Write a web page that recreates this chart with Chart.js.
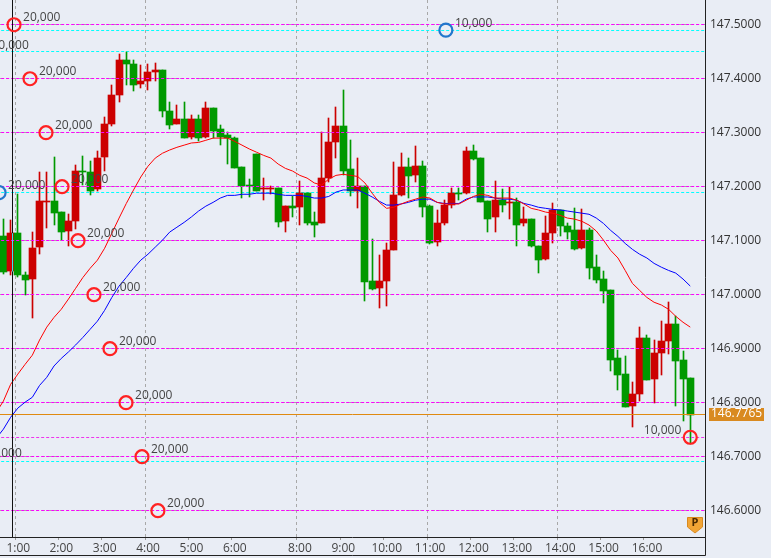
<!DOCTYPE html>
<html>
<head>
<meta charset="utf-8">
<style>
  html, body { margin: 0; padding: 0; background: #e9edf5; overflow: hidden; }
  canvas { display: block; }
</style>
<script src="https://cdn.jsdelivr.net/npm/chart.js@4/dist/chart.umd.min.js"></script>
</head>
<body>
<canvas id="myChart" width="771" height="558"></canvas>
<script>
var opens = [
  147.108,147.043,147.114,147.037,147.029,147.088,147.171,147.173,147.153,147.118,
  147.137,147.230,147.228,147.195,147.255,147.317,147.369,147.434,147.428,147.390,
  147.395,147.412,147.417,147.341,147.317,147.325,147.293,147.325,147.293,147.345,
  147.306,147.295,147.291,147.236,147.203,147.260,147.195,147.196,147.197,147.136,
  147.164,147.162,147.188,147.134,147.132,147.216,147.282,147.312,147.232,147.193,
  147.201,147.025,147.012,147.025,147.082,147.184,147.236,147.221,147.238,147.164,
  147.097,147.132,147.166,147.188,147.188,147.267,147.253,147.173,147.143,147.175,
  147.170,147.171,147.132,147.140,147.091,147.066,147.115,147.156,147.128,147.119,
  147.086,147.119,147.051,147.030,147.008,146.882,146.853,146.793,146.817,146.919,
  146.843,146.892,146.914,146.945,146.879,146.845
];
var highs = [
  147.141,147.139,147.187,147.042,147.117,147.227,147.227,147.255,147.153,147.150,
  147.241,147.256,147.248,147.267,147.330,147.388,147.446,147.449,147.434,147.425,
  147.428,147.430,147.417,147.356,147.351,147.356,147.332,147.332,147.356,147.345,
  147.314,147.301,147.293,147.236,147.214,147.260,147.216,147.201,147.197,147.164,
  147.182,147.210,147.188,147.153,147.302,147.327,147.347,147.380,147.286,147.253,
  147.201,147.103,147.073,147.095,147.245,147.262,147.254,147.275,147.247,147.167,
  147.156,147.175,147.197,147.197,147.273,147.277,147.253,147.173,147.210,147.195,
  147.199,147.180,147.162,147.141,147.091,147.145,147.169,147.156,147.132,147.160,
  147.158,147.123,147.073,147.043,147.008,146.897,146.886,146.838,146.940,146.925,
  146.917,146.951,146.986,146.960,146.895,146.845
];
var lows = [
  147.039,147.036,147.033,146.999,146.957,147.076,147.124,147.129,147.101,147.090,
  147.121,147.203,147.184,147.193,147.230,147.312,147.357,147.388,147.378,147.382,
  147.380,147.395,147.330,147.306,147.317,147.291,147.288,147.284,147.291,147.291,
  147.278,147.243,147.234,147.179,147.181,147.193,147.175,147.187,147.125,147.116,
  147.143,147.130,147.129,147.106,147.132,147.208,147.253,147.221,147.182,147.160,
  146.988,147.008,146.975,146.980,147.082,147.182,147.180,147.208,147.143,147.093,
  147.090,147.130,147.160,147.175,147.186,147.249,147.171,147.117,147.117,147.153,
  147.141,147.091,147.128,147.088,147.041,147.064,147.095,147.108,147.104,147.082,
  147.084,147.030,147.021,146.984,146.858,146.823,146.792,146.755,146.804,146.842,
  146.799,146.851,146.890,146.793,146.766,146.724
];
var closes = [
  147.042,147.114,147.036,147.027,147.087,147.173,147.173,147.151,147.116,147.136,
  147.230,147.227,147.193,147.254,147.317,147.369,147.434,147.427,147.388,147.395,
  147.412,147.417,147.340,147.315,147.325,147.291,147.325,147.291,147.345,147.304,
  147.293,147.290,147.234,147.201,147.201,147.193,147.196,147.198,147.134,147.164,
  147.160,147.188,147.132,147.130,147.216,147.282,147.312,147.230,147.193,147.201,
  147.023,147.010,147.025,147.082,147.184,147.236,147.219,147.238,147.162,147.095,
  147.132,147.167,147.188,147.186,147.267,147.251,147.171,147.141,147.175,147.167,
  147.172,147.130,147.140,147.090,147.064,147.115,147.156,147.127,147.117,147.084,
  147.119,147.049,147.028,147.006,146.880,146.851,146.792,146.817,146.919,146.842,
  146.892,146.914,146.945,146.877,146.843,146.7765
];
// both averages start one bar before the first visible candle
var maRed = [
  146.782,146.803,146.834,146.853,146.871,146.888,146.916,146.940,146.958,146.973,146.992,
  147.012,147.032,147.049,147.064,147.086,147.114,147.142,147.169,147.194,147.218,
  147.238,147.253,147.262,147.268,147.273,147.277,147.281,147.282,147.286,147.290,
  147.290,147.290,147.284,147.277,147.270,147.264,147.258,147.253,147.242,147.234,
  147.229,147.221,147.216,147.207,147.203,147.214,147.221,147.223,147.221,147.219,
  147.207,147.188,147.171,147.160,147.162,147.168,147.173,147.177,147.181,147.179,
  147.171,147.168,147.168,147.168,147.175,147.182,147.186,147.184,147.179,147.179,
  147.179,147.175,147.168,147.160,147.157,147.153,147.151,147.147,147.142,147.140,
  147.136,147.129,147.118,147.101,147.082,147.068,147.045,147.021,147.008,146.995,
  146.986,146.981,146.973,146.960,146.949,146.940
];
var maBlue = [
  146.734,146.751,146.773,146.790,146.801,146.810,146.832,146.847,146.868,146.882,146.894,
  146.907,146.921,146.936,146.951,146.971,146.995,147.016,147.032,147.049,147.064,
  147.075,147.088,147.101,147.116,147.125,147.134,147.144,147.155,147.164,147.171,
  147.179,147.184,147.184,147.186,147.186,147.188,147.188,147.188,147.186,147.184,
  147.184,147.184,147.182,147.179,147.179,147.182,147.190,147.194,147.194,147.194,
  147.188,147.181,147.173,147.166,147.166,147.168,147.171,147.175,147.177,147.177,
  147.171,147.169,147.169,147.169,147.177,147.181,147.181,147.181,147.179,147.177,
  147.177,147.175,147.169,147.166,147.162,147.160,147.158,147.157,147.155,147.153,
  147.151,147.149,147.142,147.132,147.119,147.108,147.095,147.084,147.075,147.068,
  147.058,147.051,147.045,147.040,147.029,147.016
];

var priceTicks = [147.5, 147.4, 147.3, 147.2, 147.1, 147.0, 146.9, 146.8, 146.7, 146.6];
var hourTicks = [1.65, 7.6, 13.6, 19.6, 25.6, 31.6, 40.6, 46.6, 52.6, 58.6, 64.6, 70.6, 76.6, 82.6, 88.6];
var hourLabels = ["1:00", "2:00", "3:00", "4:00", "5:00", "6:00", "8:00", "9:00", "10:00", "11:00", "12:00", "13:00", "14:00", "15:00", "16:00"];
var hourGrid = ["1:00", "4:00", "8:00", "11:00", "14:00"];
var cyanLevels = [147.4885, 147.449, 147.188, 146.690];
var stopLevel = [146.734];
var lastPrice = 146.7765;
var cursorIndex = 1.26;

var redOrderX = [1.47, 3.68, 5.89, 8.11, 10.32, 12.53, 14.74, 16.96, 19.17, 21.37, 95];
var redOrderPrice = [147.5, 147.4, 147.3, 147.2, 147.1, 147.0, 146.9, 146.8, 146.7, 146.6, 146.736];
var redOrderQty = ["20,000", "20,000", "20,000", "20,000", "20,000", "20,000", "20,000", "20,000", "20,000", "20,000", "10,000"];
var blueOrderX = [61.2, -0.6, -2.9, -3.87];
var blueOrderPrice = [147.49, 147.189, 147.449, 146.693];
var blueOrderQty = ["10,000", "20,000", "20,000", "20,000"];

var textFont = "12px 'Open Sans'";

function maPoints(values) {
  return values.map((v, i) => ({ x: i - 1, y: v }));
}

function levelLine(price, color, order, dash) {
  return {
    type: "line",
    data: [{ x: -1, y: price }, { x: 98, y: price }],
    borderColor: color,
    backgroundColor: color,
    borderWidth: 1,
    borderDash: dash,
    pointRadius: 0,
    snapY: true,
    order: order,
  };
}

function orderDots(xs, ys, color) {
  return {
    type: "scatter",
    data: xs.map((x, i) => ({ x: x, y: ys[i] })),
    showLine: false,
    pointStyle: "circle",
    pointRadius: 6.5,
    pointBorderWidth: 2.2,
    pointBorderColor: color,
    pointBackgroundColor: "rgba(0,0,0,0)",
    order: 0,
  };
}

var candleColors = closes.map((c, i) => (c >= opens[i] ? "#cc0000" : "#009900"));

var datasets = [
  {
    label: "wicks",
    data: lows.map((l, i) => ({ x: i, y: [l, highs[i]] })),
    backgroundColor: candleColors,
    barThickness: 1,
    grouped: false,
    order: 9,
  },
  {
    label: "bodies",
    data: opens.map((o, i) => ({ x: i, y: [o, closes[i]] })),
    backgroundColor: candleColors,
    barThickness: 7,
    minBarLength: 1,
    grouped: false,
    order: 8,
  },
  {
    type: "line",
    label: "ma red",
    data: maPoints(maRed),
    borderColor: "#ff0000",
    borderWidth: 1,
    pointRadius: 0,
    order: 2,
  },
  {
    type: "line",
    label: "ma blue",
    data: maPoints(maBlue),
    borderColor: "#0000ff",
    borderWidth: 1,
    pointRadius: 0,
    order: 2,
  },
  orderDots(redOrderX, redOrderPrice, "#ff2222"),
  orderDots(blueOrderX, blueOrderPrice, "#2277cc"),
  {
    type: "line",
    label: "cursor",
    data: [{ x: cursorIndex, y: 146 }, { x: cursorIndex, y: 148 }],
    borderColor: "#111111",
    borderWidth: 1,
    pointRadius: 0,
    order: 1,
  },
  {
    // the cursor turns cyan where it crosses the red body
    type: "line",
    label: "cursor over candle",
    data: [{ x: cursorIndex, y: opens[1] }, { x: cursorIndex, y: closes[1] }],
    borderColor: "#33eeee",
    borderWidth: 1,
    pointRadius: 0,
    order: 0,
  },
  levelLine(lastPrice, "#e08a10", 3, [1000, 0]),
];
priceTicks.forEach((p) => datasets.push(levelLine(p, "#ff00ff", 4, [3, 2])));
cyanLevels.forEach((p) => datasets.push(levelLine(p, "#00ffff", 10, [3, 2])));
stopLevel.forEach((p) => datasets.push(levelLine(p, "#ee33ee", 4, [3, 2])));

// snap candles and level lines onto whole pixels, the original is not antialiased
var snapPlugin = {
  id: "snap",
  beforeDatasetsDraw(chart) {
    chart.data.datasets.forEach((ds, i) => {
      var meta = chart.getDatasetMeta(i);
      if (meta.type === "bar") {
        meta.data.forEach((el) => {
          el.x = Math.floor(el.x) + 0.5;
          var top = Math.round(Math.min(el.y, el.base));
          var bottom = Math.round(Math.max(el.y, el.base));
          if (bottom === top) bottom = top + 1;
          el.y = top;
          el.base = bottom;
          el.height = bottom - top;
        });
      } else if (ds.snapY) {
        meta.data.forEach((el) => {
          el.y = Math.round(el.y) - 0.5;
        });
      }
    });
  },
};

var overlayPlugin = {
  id: "overlay",
  afterDraw(chart) {
    var ctx = chart.ctx;
    var area = chart.chartArea;
    var xs = chart.scales.x;
    var ys = chart.scales.y;

    // order quantities
    ctx.save();
    ctx.beginPath();
    ctx.rect(area.left, area.top, area.right - area.left, area.bottom - area.top);
    ctx.clip();
    ctx.font = textFont;
    ctx.fillStyle = "#444444";
    ctx.textBaseline = "middle";
    function qty(x, y, text) {
      var px = xs.getPixelForValue(x);
      var py = ys.getPixelForValue(y);
      if (x > 90) {
        ctx.textAlign = "right";
        ctx.fillText(text, px - 9, py - 7);
      } else {
        ctx.textAlign = "left";
        ctx.fillText(text, px + 9, py - 7);
      }
    }
    redOrderQty.forEach((t, i) => qty(redOrderX[i], redOrderPrice[i], t));
    blueOrderQty.forEach((t, i) => qty(blueOrderX[i], blueOrderPrice[i], t));
    ctx.restore();

    // frame
    ctx.save();
    ctx.strokeStyle = "#222222";
    ctx.lineWidth = 1;
    ctx.beginPath();
    ctx.moveTo(area.right + 0.5, 0);
    ctx.lineTo(area.right + 0.5, 555.5);
    ctx.moveTo(0, area.bottom + 0.5);
    ctx.lineTo(area.right, area.bottom + 0.5);
    ctx.moveTo(0, 555.5);
    ctx.lineTo(area.right + 0.5, 555.5);
    ctx.stroke();

    // last price tag
    var tagY = Math.round(ys.getPixelForValue(lastPrice)) - 1;
    ctx.fillStyle = "#d98a20";
    ctx.fillRect(709, tagY - 6, 55, 13);
    ctx.fillStyle = "#ffffff";
    ctx.font = textFont;
    ctx.textAlign = "left";
    ctx.textBaseline = "middle";
    ctx.fillText(lastPrice.toFixed(4), 711, tagY);

    // P badge
    ctx.fillStyle = "#f2a535";
    ctx.strokeStyle = "#d98a20";
    ctx.beginPath();
    ctx.moveTo(687.5, 517.5);
    ctx.lineTo(702.5, 517.5);
    ctx.lineTo(702.5, 527);
    ctx.lineTo(695, 533);
    ctx.lineTo(687.5, 527);
    ctx.closePath();
    ctx.fill();
    ctx.stroke();
    ctx.fillStyle = "#4a2a00";
    ctx.font = "bold 11px 'Open Sans'";
    ctx.textAlign = "center";
    ctx.fillText("P", 695, 523);
    ctx.restore();
  },
};

var ctx = document.getElementById("myChart").getContext("2d");
var myChart = new Chart(ctx, {
  type: "bar",
  data: { datasets: datasets },
  plugins: [snapPlugin, overlayPlugin],
  options: {
    responsive: false,
    animation: false,
    devicePixelRatio: 1,
    layout: { padding: 0, autoPadding: false },
    plugins: { legend: { display: false }, tooltip: { enabled: false } },
    scales: {
      x: {
        type: "linear",
        min: -0.47,
        max: 97.04,
        offset: false,
        afterBuildTicks(scale) {
          scale.ticks = hourTicks.map((v) => ({ value: v }));
        },
        afterFit(scale) {
          scale.height = 21;
          scale.paddingLeft = 0;
          scale.paddingRight = 0;
        },
        border: { display: false, dash: [3, 3] },
        grid: {
          offset: false,
          color(c) {
            if (!c.tick) return "rgba(0,0,0,0)";
            var name = hourLabels[hourTicks.indexOf(c.tick.value)];
            return hourGrid.includes(name) ? "#a8a8a8" : "rgba(0,0,0,0)";
          },
          tickColor: "#999999",
          tickLength: 3,
        },
        ticks: {
          autoSkip: false,
          maxRotation: 0,
          padding: 1,
          labelOffset: 3,
          color: "#444444",
          font: { family: "'Open Sans'", size: 12 },
          callback(value) {
            return hourLabels[hourTicks.indexOf(value)];
          },
        },
      },
      y: {
        position: "right",
        min: 146.5513,
        max: 147.5458,
        afterBuildTicks(scale) {
          scale.ticks = priceTicks.map((v) => ({ value: v }));
        },
        afterFit(scale) {
          scale.width = 66;
          scale.paddingTop = 0;
          scale.paddingBottom = 0;
        },
        border: { display: false, dash: [3, 3] },
        grid: { color: "#a8a8a8", drawTicks: false },
        ticks: {
          padding: 5,
          color: "#333333",
          font: { family: "'Open Sans'", size: 12 },
          callback(value) {
            return value.toFixed(4);
          },
        },
      },
    },
  },
});
</script>
</body>
</html>
